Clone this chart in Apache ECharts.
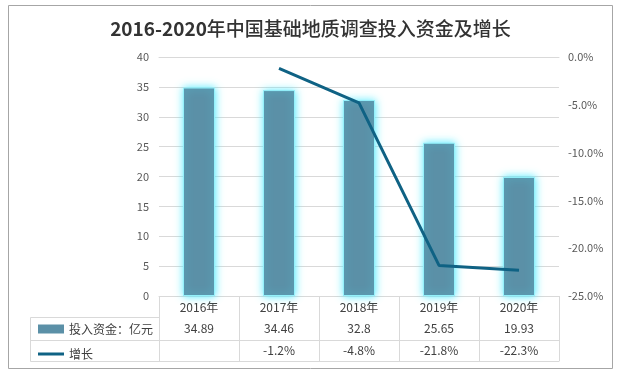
<!DOCTYPE html>
<html>
<head>
<meta charset="utf-8">
<script src="https://cdn.jsdelivr.net/npm/echarts@6/dist/echarts.min.js"></script>
<style>
  html, body { margin: 0; padding: 0; background: #fff; }
  #main { width: 621px; height: 376px; }
</style>
</head>
<body>
<div id="main"></div>
<script>
// 数据
var years = ['2016年', '2017年', '2018年', '2019年', '2020年'];
var funds = [34.89, 34.46, 32.8, 25.65, 19.93];
var growth = [null, -0.012, -0.048, -0.218, -0.223];
var leftTicks = { min: 0, max: 40, interval: 5 };
var rightTicks = { min: -0.25, max: 0, interval: 0.05 };

var font = '"Noto Sans CJK SC", sans-serif';
var gridColor = '#d9d9d9';
var labelColor = '#595959';

// 表格文字
var fundLabels = funds.map(function (v) { return String(v); });
var growthLabels = growth.map(function (v) {
    return v == null ? '' : (v * 100).toFixed(1) + '%';
});

var gLeft = 159, gRight = 62, gTop = 57, gBottom = 80;
var axisY = 376 - gBottom;

var myChart = echarts.init(document.getElementById('main'));
var option = {
    backgroundColor: '#fff',
    title: {
        text: '{a|2016-2020}{b|年中国基础地质调查投入资金及增长}',
        left: 'center',
        top: 14,
        textStyle: {
            rich: {
                a: { fontFamily: font, fontSize: 19, fontWeight: 'bold', color: '#333' },
                b: { fontFamily: font, fontSize: 19, fontWeight: 500, color: '#333' }
            }
        }
    },
    grid: { left: gLeft, right: gRight, top: gTop, bottom: gBottom },
    legend: {
        orient: 'vertical',
        left: 33,
        top: axisY + 22,
        itemWidth: 26,
        itemHeight: 9,
        itemGap: 13,
        textStyle: { fontFamily: font, fontSize: 12, color: '#404040' },
        data: [
            {
                name: '投入资金：亿元',
                icon: 'rect',
                itemStyle: { borderWidth: 0, shadowBlur: 0, shadowColor: 'transparent' }
            },
            { name: '增长', icon: 'path://M0,0 L26,0 L26,3 L0,3 Z' }
        ]
    },
    xAxis: [
        {
            type: 'category',
            data: years,
            axisLine: { lineStyle: { color: gridColor } },
            axisTick: { show: true, length: 65, lineStyle: { color: gridColor } },
            axisLabel: { color: '#404040', fontFamily: font, fontSize: 12, margin: 5 }
        },
        {
            type: 'category',
            data: fundLabels,
            position: 'bottom',
            offset: 21,
            axisLine: { show: true, lineStyle: { color: gridColor } },
            axisTick: { show: false },
            axisLabel: { color: '#404040', fontFamily: font, fontSize: 12, margin: 5 }
        },
        {
            type: 'category',
            data: growthLabels,
            position: 'bottom',
            offset: 44,
            axisLine: { show: true, lineStyle: { color: gridColor } },
            axisTick: { show: false },
            axisLabel: { color: '#404040', fontFamily: font, fontSize: 12, margin: 4 }
        },
        {
            type: 'category',
            data: years,
            position: 'bottom',
            offset: 65,
            axisLine: { show: true, lineStyle: { color: gridColor } },
            axisTick: { show: false },
            axisLabel: { show: false }
        }
    ],
    yAxis: [
        {
            type: 'value',
            min: leftTicks.min,
            max: leftTicks.max,
            interval: leftTicks.interval,
            axisLine: { show: false },
            axisTick: { show: false },
            splitLine: { lineStyle: { color: gridColor } },
            axisLabel: { color: labelColor, fontFamily: font, fontSize: 11, margin: 10 }
        },
        {
            type: 'value',
            min: rightTicks.min,
            max: rightTicks.max,
            interval: rightTicks.interval,
            axisLine: { show: false },
            axisTick: { show: false },
            splitLine: { show: false },
            axisLabel: {
                color: labelColor, fontFamily: font, fontSize: 11, margin: 9,
                formatter: function (v) { return (v * 100).toFixed(1) + '%'; }
            }
        }
    ],
    series: [
        {
            name: '投入资金：亿元',
            type: 'bar',
            data: funds,
            barWidth: '40%',
            itemStyle: {
                color: '#5b90a7',
                borderColor: 'rgba(150,245,255,0.9)',
                borderWidth: 1,
                shadowColor: 'rgba(80,235,255,1)',
                shadowBlur: 8
            }
        },
        {
            name: '增长',
            type: 'line',
            yAxisIndex: 1,
            data: growth,
            symbol: 'none',
            lineStyle: { color: '#0f6284', width: 3 },
            itemStyle: { color: '#0f6284' }
        }
    ],
    graphic: [
        {
            type: 'rect',
            shape: { x: 8.5, y: 5.5, width: 604, height: 363 },
            style: { fill: 'none', stroke: '#a6a6a6', lineWidth: 1 },
            silent: true
        },
        {
            type: 'rect',
            shape: { x: 30.5, y: axisY + 21.5, width: gLeft - 30, height: 44 },
            style: { fill: 'none', stroke: gridColor, lineWidth: 1 },
            silent: true
        },
        {
            type: 'line',
            shape: { x1: 30.5, y1: axisY + 44.5, x2: gLeft, y2: axisY + 44.5 },
            style: { stroke: gridColor, lineWidth: 1 },
            silent: true
        }
    ]
};
myChart.setOption(option);
</script>
</body>
</html>
